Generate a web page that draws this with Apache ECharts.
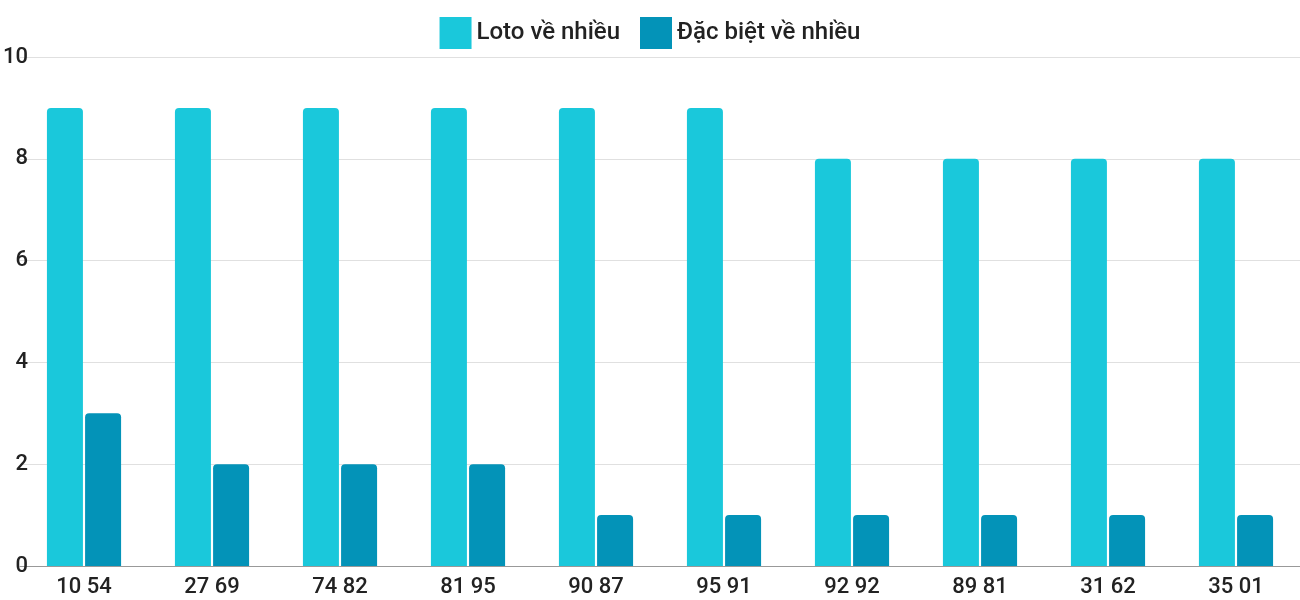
<!DOCTYPE html>
<html>
<head>
<meta charset="utf-8">
<script src="https://cdn.jsdelivr.net/npm/echarts@6/dist/echarts.min.js"></script>
<style>html,body{margin:0;padding:0;overflow:hidden}#chart{width:1300px;height:600px}</style>
</head>
<body>
<div id="chart"></div>
<script>
const CATEGORIES = ['10 54', '27 69', '74 82', '81 95', '90 87', '95 91', '92 92', '89 81', '31 62', '35 01'];
const LOTO = [9, 9, 9, 9, 9, 9, 8, 8, 8, 8];
const SPECIAL = [3, 2, 2, 2, 1, 1, 1, 1, 1, 1];

let chart = echarts.init(document.getElementById('chart'));
const font = 'Roboto';

chart.setOption({
  animation: false,
  textStyle: { fontFamily: font },
  legend: {
    top: 12,
    left: 'center',
    itemWidth: 32,
    itemHeight: 32,
    itemGap: 20,
    icon: 'rect',
    textStyle: { fontSize: 24, color: '#222', fontWeight: 500, fontFamily: font },
    data: ['Loto về nhiều', 'Đặc biệt về nhiều']
  },
  grid: { left: 20, width: 1306, top: 57, bottom: 34 },
  xAxis: {
    type: 'category',
    data: CATEGORIES,
    axisTick: { show: false },
    axisLine: { lineStyle: { color: '#999' } },
    axisLabel: { fontSize: 22, color: '#222', fontWeight: 500, margin: 10, fontFamily: font }
  },
  yAxis: {
    type: 'value',
    min: 0,
    max: 10,
    interval: 2,
    offset: -28,
    axisLabel: { fontSize: 22, color: '#222', fontWeight: 500, margin: 20, fontFamily: font },
    splitLine: { lineStyle: { color: '#e0e0e0' } }
  },
  series: [
    {
      name: 'Loto về nhiều',
      type: 'bar',
      data: LOTO,
      barWidth: 36,
      barGap: '6%',
      itemStyle: { color: '#1ac8db', borderRadius: [4, 4, 0, 0] }
    },
    {
      name: 'Đặc biệt về nhiều',
      type: 'bar',
      data: SPECIAL,
      barWidth: 36,
      itemStyle: { color: '#0393b8', borderRadius: [4, 4, 0, 0] }
    }
  ]
});
</script>
</body>
</html>
